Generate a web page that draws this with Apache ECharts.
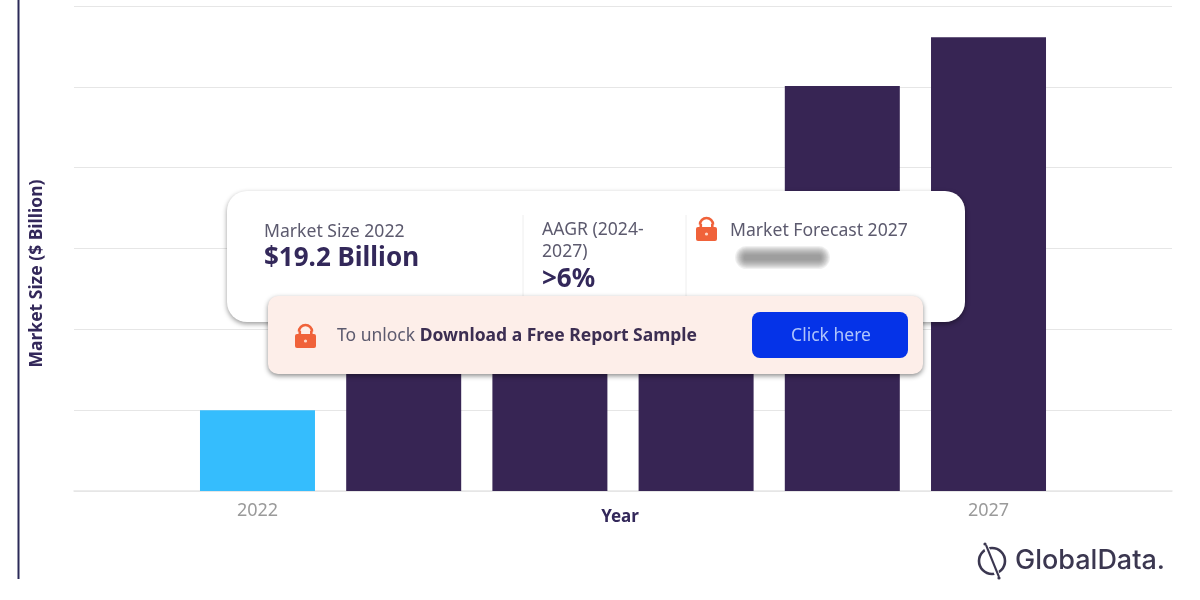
<!DOCTYPE html>
<html>
<head>
<meta charset="utf-8">
<style>html,body{margin:0;padding:0;background:#fff}#c{width:1200px;height:600px}</style>
<script src="https://cdn.jsdelivr.net/npm/echarts@6/dist/echarts.min.js"></script>
</head>
<body>
<div id="c"></div>
<script>
const years = [2022, 2023, 2024, 2025, 2026, 2027];
const marketSize = [19.2, 40, 50, 62, 96.2, 107.8];
const labelledYears = [2022, 2027];
const barColors = ['#35bdfd', '#372554', '#372554', '#372554', '#372554', '#372554'];
const yTickStep = 19.2;
const yMax = 115.2;

const FONT = '"Noto Sans", sans-serif';
const INK = '#33285a', SOFT = '#5c5a6e', LOCK = '#f0623a', Z = 100;

function text(x, y, t, size, weight, fill, extra) {
  return {type: 'text', x, y, z: Z, style: Object.assign({
    text: t, font: `${weight} ${size}px ${FONT}`, fill, textVerticalAlign: 'middle'
  }, extra || {})};
}
function lock(x, y) {
  return {type: 'group', x, y, z: Z, children: [
    {type: 'arc', z: Z, shape: {cx: 10.5, cy: 9.5, r: 6.5, startAngle: Math.PI, endAngle: 0, clockwise: true},
     style: {stroke: LOCK, lineWidth: 2.6, fill: 'none'}},
    {type: 'rect', z: Z, shape: {x: 3.5, y: 9, width: 2.6, height: 5}, style: {fill: LOCK}},
    {type: 'rect', z: Z, shape: {x: 15, y: 9, width: 2.6, height: 5}, style: {fill: LOCK}},
    {type: 'rect', z: Z, shape: {x: 0, y: 12, width: 21, height: 14, r: 2}, style: {fill: LOCK}},
    {type: 'circle', z: Z, shape: {cx: 10.5, cy: 19, r: 1.6}, style: {fill: '#ffd9c8'}}
  ]};
}
// soft blurred smudge hiding the forecast value, built from nested translucent pills
function smudge(x, y, w, h) {
  const parts = [];
  for (let d = 6; d >= -3; d--) {
    parts.push({type: 'rect', z: Z,
      shape: {x: x - d, y: y - d, width: w + 2 * d, height: h + 2 * d, r: (h + 2 * d) / 2},
      style: {fill: 'rgba(120,120,120,0.11)'}});
  }
  return parts;
}

const overlay = [
  {type: 'line', z: Z, shape: {x1: 18.5, y1: 0, x2: 18.5, y2: 579}, style: {stroke: '#2b2a58', lineWidth: 2}},
  {type: 'rect', z: Z, shape: {x: 227, y: 191, width: 738, height: 131, r: 20},
   style: {fill: '#fff', shadowBlur: 5, shadowColor: 'rgba(0,0,0,0.4)', shadowOffsetX: 0, shadowOffsetY: 2}},
  {type: 'line', z: Z, shape: {x1: 523, y1: 215, x2: 523, y2: 296}, style: {stroke: '#eeeeee', lineWidth: 1}},
  {type: 'line', z: Z, shape: {x1: 686, y1: 215, x2: 686, y2: 296}, style: {stroke: '#eeeeee', lineWidth: 1}},
  text(264, 232, 'Market Size 2022', 17.6, 400, SOFT),
  text(264, 259, '$19.2 Billion', 26, 700, INK),
  text(542, 230, 'AAGR (2024-', 17.6, 400, SOFT),
  text(542, 252, '2027)', 17.6, 400, SOFT),
  text(542, 280, '>6%', 26, 700, INK),
  lock(696, 215),
  text(730, 231, 'Market Forecast 2027', 17.6, 400, SOFT),
  ...smudge(741, 252, 83, 11),
  {type: 'rect', z: Z, shape: {x: 268, y: 296, width: 655, height: 78, r: 10},
   style: {fill: '#fdeee9', shadowBlur: 5, shadowColor: 'rgba(0,0,0,0.45)', shadowOffsetX: 0, shadowOffsetY: 2}},
  lock(295, 322),
  {type: 'text', x: 337, y: 336, z: Z, style: {
    text: '{a|To unlock }{b|Download a Free Report Sample}', textVerticalAlign: 'middle',
    rich: {a: {font: `400 17.5px ${FONT}`, fill: SOFT}, b: {font: `700 17.5px ${FONT}`, fill: '#3c2e52'}}
  }},
  {type: 'rect', z: Z, shape: {x: 752, y: 312, width: 156, height: 46, r: 8}, style: {fill: '#0533e8'}},
  text(831, 336, 'Click here', 17.5, 400, '#afc4fb', {textAlign: 'center'}),
  {type: 'circle', z: Z, shape: {cx: 992, cy: 561, r: 13}, style: {fill: 'none', stroke: '#3b3750', lineWidth: 2.6}},
  {type: 'line', z: Z, shape: {x1: 985, y1: 544, x2: 999, y2: 579}, style: {stroke: '#ffffff', lineWidth: 5}},
  {type: 'line', z: Z, shape: {x1: 986, y1: 545, x2: 999, y2: 577}, style: {stroke: '#3b3750', lineWidth: 2}},
  {type: 'circle', z: Z, shape: {cx: 985, cy: 544, r: 1.6}, style: {fill: '#3b3750'}},
  {type: 'circle', z: Z, shape: {cx: 999, cy: 578, r: 1.6}, style: {fill: '#3b3750'}},
  text(1015, 561, 'GlobalData.', 27, 500, '#3b3750', {font: '500 27px Inter, sans-serif'})
];

const chart = echarts.init(document.getElementById('c'), null, {renderer: 'canvas'});
chart.setOption({
  animation: false,
  backgroundColor: '#ffffff',
  grid: {left: 74, right: 28, top: 6, bottom: 109},
  xAxis: {
    type: 'value', min: 2020.745, max: 2028.255,
    name: 'Year', nameLocation: 'middle', nameGap: 18, nameMoveOverlap: false,
    nameTextStyle: {fontFamily: FONT, fontSize: 17, fontWeight: 700, color: INK, padding: [0, 6, 0, 0]},
    splitLine: {show: false},
    axisLine: {show: true, lineStyle: {color: '#e6e6e6', width: 1.5}},
    axisTick: {show: false},
    axisLabel: {customValues: labelledYears, formatter: v => String(v), margin: 11,
      fontFamily: FONT, fontSize: 18, color: '#9a9a9a'}
  },
  yAxis: {
    type: 'value', min: 0, max: yMax, interval: yTickStep,
    name: 'Market Size ($ Billion)', nameLocation: 'middle', nameGap: 28, nameRotate: 90,
    nameTextStyle: {fontFamily: FONT, fontSize: 17.5, fontWeight: 700, color: INK, padding: [0, 50, 0, 0]},
    axisLabel: {show: false}, axisTick: {show: false}, axisLine: {show: false},
    splitLine: {lineStyle: {color: '#e6e6e6', width: 1.2}}
  },
  series: [{
    type: 'bar', barWidth: 115,
    data: years.map((y, i) => ({value: [y, marketSize[i]], itemStyle: {color: barColors[i]}}))
  }],
  graphic: {elements: overlay}
});
</script>
</body>
</html>
